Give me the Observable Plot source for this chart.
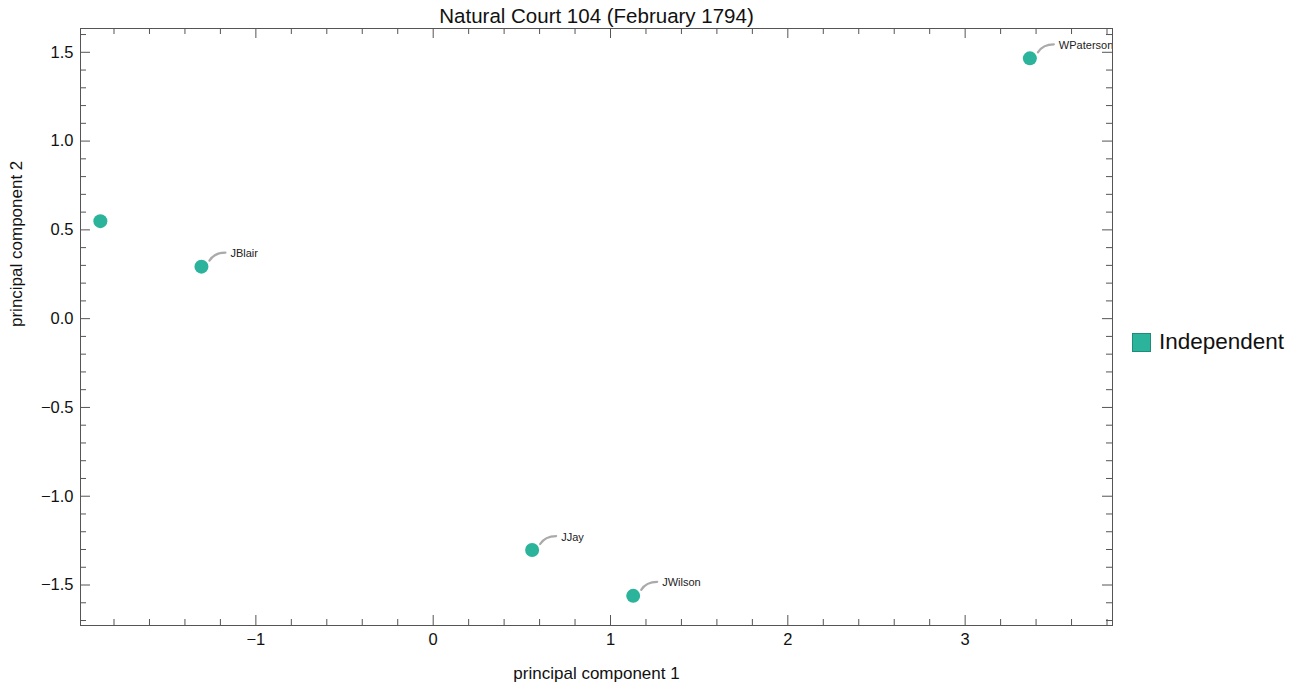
<!DOCTYPE html>
<html>
<head>
<meta charset="utf-8">
<script src="https://cdn.jsdelivr.net/npm/d3@7"></script>
<script src="https://cdn.jsdelivr.net/npm/@observablehq/plot@0.6"></script>
<style>
  html, body { margin: 0; padding: 0; background: #fff; }
  #wrap { position: relative; width: 1303px; height: 690px; font-family: "Liberation Sans", Arial, sans-serif; }
  #chart { position: absolute; left: 0; top: 0; }
  #legend { position: absolute; left: 1132px; top: 329px; display: flex; align-items: center; font-size: 22.5px; color: #111; }
  #legend .sw { width: 17px; height: 17px; background: #2bb39b; border: 1px solid #1d8c78; margin-right: 8px; }
</style>
</head>
<body>
<div id="wrap">
  <div id="chart"></div>
  <div id="legend"><div class="sw"></div><span>Independent</span></div>
</div>
<script>
// ---- data ----
const title = "Natural Court 104 (February 1794)";
const xLabel = "principal component 1";
const yLabel = "principal component 2";
const names = ["", "JBlair", "WPaterson", "JJay", "JWilson"];
const pc1 = [-1.877, -1.307, 3.365, 0.558, 1.128];
const pc2 = [0.549, 0.293, 1.466, -1.303, -1.561];
const groups = ["Independent", "Independent", "Independent", "Independent", "Independent"];
const xMajor = [-1, 0, 1, 2, 3];
const yMajor = [-1.5, -1.0, -0.5, 0.0, 0.5, 1.0, 1.5];
const xMinor = d3.range(-9, 20).filter(i => i % 5 !== 0).map(i => i / 5);
const yMinor = d3.range(-17, 17).filter(i => i % 5 !== 0).map(i => i / 10);

const data = names.map((n, i) => ({name: n, x: pc1[i], y: pc2[i], group: groups[i]}));
const labeled = data.filter(d => d.name !== "");

const W = 1303, H = 690;
const mL = 80, mR = 191, mT = 28, mB = 65;
const innerW = W - mL - mR, innerH = H - mT - mB;
const tickColor = "#555";
const teal = "#2bb39b";

// leader curve as a custom symbol (drawn relative to the point)
const leader = {
  draw(ctx) {
    ctx.moveTo(8, -6);
    ctx.quadraticCurveTo(13, -14, 24, -14);
  }
};

const chart = Plot.plot({
  width: W, height: H,
  marginLeft: mL, marginRight: mR, marginTop: mT, marginBottom: mB,
  style: {fontFamily: "'Liberation Sans', Arial, sans-serif", color: "#111", background: "white"},
  x: {domain: [-1.989, 3.831]},
  y: {domain: [-1.728, 1.634]},
  marks: [
    // inward ticks on all four sides
    Plot.tickX(xMajor, {x: d => d, insetTop: innerH - 10, stroke: tickColor}),
    Plot.tickX(xMinor, {x: d => d, insetTop: innerH - 6, stroke: tickColor}),
    Plot.tickX(xMajor, {x: d => d, insetBottom: innerH - 10, stroke: tickColor}),
    Plot.tickX(xMinor, {x: d => d, insetBottom: innerH - 6, stroke: tickColor}),
    Plot.tickY(yMajor, {y: d => d, insetRight: innerW - 10, stroke: tickColor}),
    Plot.tickY(yMinor, {y: d => d, insetRight: innerW - 6, stroke: tickColor}),
    Plot.tickY(yMajor, {y: d => d, insetLeft: innerW - 10, stroke: tickColor}),
    Plot.tickY(yMinor, {y: d => d, insetLeft: innerW - 6, stroke: tickColor}),
    Plot.axisX(xMajor, {anchor: "bottom", tickSize: 0, tickPadding: 8, fontSize: 16.5, tickFormat: d3.format("d"), label: null}),
    Plot.axisY(yMajor, {anchor: "left", tickSize: 0, tickPadding: 7, fontSize: 16.5, tickFormat: d3.format(".1f"), label: null}),
    Plot.frame({stroke: tickColor}),
    // leaders
    Plot.dot(labeled, {x: "x", y: "y", symbol: leader, r: 5, fill: "none", stroke: "#aaaaaa", strokeWidth: 2.2, strokeLinecap: "round"}),
    // points
    Plot.dot(data, {x: "x", y: "y", r: 7, fill: teal, stroke: "none"}),
    // labels
    Plot.text(labeled, {x: "x", y: "y", text: "name", dx: 29, dy: -13, textAnchor: "start", fontSize: 11, fill: "#222", clip: true}),
    // titles
    Plot.text([title], {frameAnchor: "top", dy: -12, lineAnchor: "middle", fontSize: 20.5, fill: "#111"}),
    Plot.text([xLabel], {frameAnchor: "bottom", dy: 48, lineAnchor: "middle", fontSize: 17, fill: "#111"}),
    Plot.text([yLabel], {frameAnchor: "left", dx: -64, rotate: -90, lineAnchor: "middle", fontSize: 17, fill: "#111"})
  ]
});
document.getElementById("chart").appendChild(chart);
</script>
</body>
</html>
